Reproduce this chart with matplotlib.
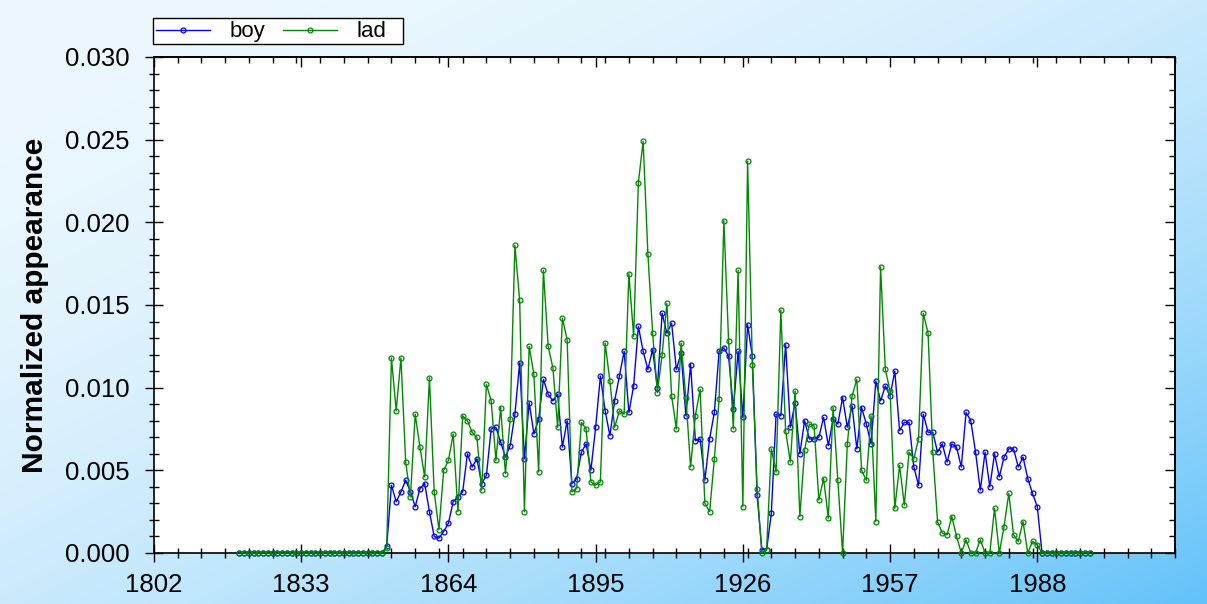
import matplotlib
matplotlib.use('Agg')
import matplotlib.pyplot as plt
import numpy as np
from matplotlib.ticker import FixedLocator, MultipleLocator, FormatStrFormatter
from matplotlib.lines import Line2D
from matplotlib.patches import Rectangle

plt.rcParams['font.family'] = ['Liberation Sans', 'DejaVu Sans']

# ---------------- data ----------------
years = list(range(1820, 2000))

zeros_1820_1850 = [0.0, 0.0, 0.0, 0.0, 0.0, 0.0, 0.0, 0.0, 0.0, 0.0,
                   0.0, 0.0, 0.0, 0.0, 0.0, 0.0, 0.0, 0.0, 0.0, 0.0,
                   0.0, 0.0, 0.0, 0.0, 0.0, 0.0, 0.0, 0.0, 0.0, 0.0,
                   0.0]
zeros_1989_1999 = [0.0, 0.0, 0.0, 0.0, 0.0, 0.0, 0.0, 0.0, 0.0, 0.0, 0.0]

boy_1851_1988 = [
    0.0004, 0.0041, 0.0031, 0.0037, 0.0044, 0.0037, 0.0028, 0.0039, 0.0042, 0.0025,
    0.0010, 0.0009, 0.0013, 0.0018, 0.0031, 0.0034, 0.0037, 0.0060, 0.0052, 0.0057,
    0.0042, 0.0047, 0.0075, 0.0076, 0.0067, 0.0058, 0.0065, 0.0084, 0.0115, 0.0057,
    0.0091, 0.0072, 0.0081, 0.0105, 0.0096, 0.0092, 0.0096, 0.0064, 0.0080, 0.0042,
    0.0045, 0.0061, 0.0066, 0.0050, 0.0076, 0.0107, 0.0086, 0.0071, 0.0092, 0.0107,
    0.0122, 0.0085, 0.0101, 0.0137, 0.0122, 0.0111, 0.0123, 0.0100, 0.0145, 0.0133,
    0.0139, 0.0111, 0.0121, 0.0083, 0.0114, 0.0068, 0.0069, 0.0044, 0.0069, 0.0085,
    0.0122, 0.0124, 0.0119, 0.0087, 0.0122, 0.0082, 0.0138, 0.0119, 0.0035, 0.0002,
    0.0002, 0.0024, 0.0084, 0.0083, 0.0126, 0.0076, 0.0091, 0.0060, 0.0080, 0.0069,
    0.0069, 0.0070, 0.0082, 0.0065, 0.0081, 0.0078, 0.0094, 0.0076, 0.0089, 0.0063,
    0.0088, 0.0078, 0.0066, 0.0104, 0.0092, 0.0101, 0.0095, 0.0110, 0.0074, 0.0079,
    0.0079, 0.0052, 0.0041, 0.0084, 0.0073, 0.0073, 0.0061, 0.0066, 0.0055, 0.0066,
    0.0064, 0.0052, 0.0085, 0.0080, 0.0061, 0.0038, 0.0061, 0.0040, 0.0060, 0.0046,
    0.0058, 0.0063, 0.0063, 0.0052, 0.0058, 0.0045, 0.0036, 0.0028,
]

lad_1851_1988 = [
    0.0003, 0.0118, 0.0086, 0.0118, 0.0055, 0.0034, 0.0084, 0.0064, 0.0046, 0.0106,
    0.0037, 0.0014, 0.0050, 0.0056, 0.0072, 0.0025, 0.0083, 0.0080, 0.0073, 0.0070,
    0.0038, 0.0102, 0.0092, 0.0056, 0.0088, 0.0048, 0.0081, 0.0186, 0.0153, 0.0025,
    0.0125, 0.0108, 0.0049, 0.0171, 0.0125, 0.0112, 0.0076, 0.0142, 0.0129, 0.0037,
    0.0039, 0.0079, 0.0075, 0.0043, 0.0041, 0.0043, 0.0127, 0.0104, 0.0076, 0.0086,
    0.0084, 0.0169, 0.0131, 0.0224, 0.0249, 0.0181, 0.0133, 0.0097, 0.0120, 0.0151,
    0.0095, 0.0075, 0.0127, 0.0094, 0.0052, 0.0083, 0.0099, 0.0030, 0.0025, 0.0057,
    0.0093, 0.0201, 0.0128, 0.0075, 0.0171, 0.0028, 0.0237, 0.0114, 0.0039, 0.0000,
    0.0002, 0.0063, 0.0049, 0.0147, 0.0074, 0.0055, 0.0098, 0.0022, 0.0062, 0.0078,
    0.0077, 0.0032, 0.0045, 0.0021, 0.0088, 0.0044, 0.0000, 0.0066, 0.0095, 0.0105,
    0.0050, 0.0044, 0.0083, 0.0019, 0.0173, 0.0111, 0.0098, 0.0027, 0.0053, 0.0029,
    0.0061, 0.0057, 0.0069, 0.0145, 0.0133, 0.0061, 0.0019, 0.0012, 0.0011, 0.0022,
    0.0010, 0.0000, 0.0008, 0.0000, 0.0000, 0.0008, 0.0000, 0.0000, 0.0027, 0.0000,
    0.0016, 0.0036, 0.0011, 0.0007, 0.0019, 0.0000, 0.0007, 0.0005,
]

boy = zeros_1820_1850 + boy_1851_1988 + zeros_1989_1999
lad = zeros_1820_1850 + lad_1851_1988 + zeros_1989_1999

series_names = ['boy', 'lad']
x_major_ticks = [1802, 1833, 1864, 1895, 1926, 1957, 1988]
x_minor_ticks = list(range(1802, 2018, 5))
x_range = (1802, 2017)
y_range = (0.0, 0.030)

# ---------------- figure ----------------
W, H = 1207, 604
fig = plt.figure(figsize=(W / 100, H / 100), dpi=100)

# gradient background
bg = fig.add_axes([0, 0, 1, 1], zorder=-10)
yy, xx = np.mgrid[0:1:H * 1j, 0:1:W * 1j]
t = np.clip((xx + yy) / 2.0, 0, 1) ** 2.0
c0 = np.array([237, 248, 254]) / 255.0
c1 = np.array([98, 194, 249]) / 255.0
img = c0 + (c1 - c0) * t[..., None]
bg.imshow(img, aspect='auto', extent=[0, 1, 0, 1], origin='upper')
bg.set_axis_off()

left, right = 154 / W, 1175 / W
bottom, top = 1 - 553 / H, 1 - 57 / H
ax = fig.add_axes([left, bottom, right - left, top - bottom])
ax.set_facecolor('white')

blue = '#0000ff'
green = '#008a00'
ax.plot(years, boy, color=blue, lw=1.0, marker='o', ms=3.5, mfc='none',
        mew=0.9, clip_on=False, zorder=2)
ax.plot(years, lad, color=green, lw=1.0, marker='o', ms=3.5, mfc='none',
        mew=0.9, clip_on=False, zorder=3)

ax.set_xlim(*x_range)
ax.set_ylim(*y_range)
ax.xaxis.set_major_locator(FixedLocator(x_major_ticks))
ax.xaxis.set_minor_locator(FixedLocator(x_minor_ticks))
ax.yaxis.set_major_locator(MultipleLocator(0.005))
ax.yaxis.set_minor_locator(MultipleLocator(0.001))
ax.yaxis.set_major_formatter(FormatStrFormatter('%.3f'))

for s in ax.spines.values():
    s.set_linewidth(1.2)
    s.set_color('black')

ax.tick_params(axis='both', which='major', direction='inout', length=13.5,
               width=1.0, labelsize=18.5, pad=8, colors='black')
ax.tick_params(axis='both', which='minor', direction='inout', length=7,
               width=1.0)
ax.tick_params(axis='y', which='major', pad=11)

# top / right inward ticks
secx = ax.secondary_xaxis('top')
secx.xaxis.set_major_locator(FixedLocator(x_major_ticks))
secx.xaxis.set_minor_locator(FixedLocator(x_minor_ticks))
secx.tick_params(which='major', direction='in', length=7.5, width=1.0, labeltop=False)
secx.tick_params(which='minor', direction='in', length=4.5, width=1.0)
secx.set_xticklabels([])
secx.spines['top'].set_linewidth(1.2)

secy = ax.secondary_yaxis('right')
secy.yaxis.set_major_locator(MultipleLocator(0.005))
secy.yaxis.set_minor_locator(MultipleLocator(0.001))
secy.tick_params(which='major', direction='in', length=7.5, width=1.0, labelright=False)
secy.tick_params(which='minor', direction='in', length=4.0, width=1.0)
secy.set_yticklabels([])
secy.spines['right'].set_linewidth(1.2)

ax.set_ylabel('Normalized appearance', fontsize=21.5, fontweight='bold', labelpad=11)

# legend (frame drawn as a figure rectangle to match the reference box)
handles = [
    Line2D([], [], color=blue, lw=1.0, marker='o', ms=3.5, mfc='none', mew=0.9),
    Line2D([], [], color=green, lw=1.0, marker='o', ms=3.5, mfc='none', mew=0.9),
]
leg = fig.legend(handles, series_names, loc='upper left',
                 bbox_to_anchor=(153 / W, 1 - 18 / H), ncol=2, fontsize=16,
                 frameon=False, borderpad=0.15, handlelength=2.4,
                 handletextpad=0.9, columnspacing=0.8, borderaxespad=0.0,
                 numpoints=1)
frame = Rectangle((153 / W, 1 - 44 / H), (403 - 153) / W, 26 / H,
                  transform=fig.transFigure, facecolor='white',
                  edgecolor='black', linewidth=1.0, zorder=-1)
fig.patches.append(frame)

fig.savefig('out.png', dpi=100)
